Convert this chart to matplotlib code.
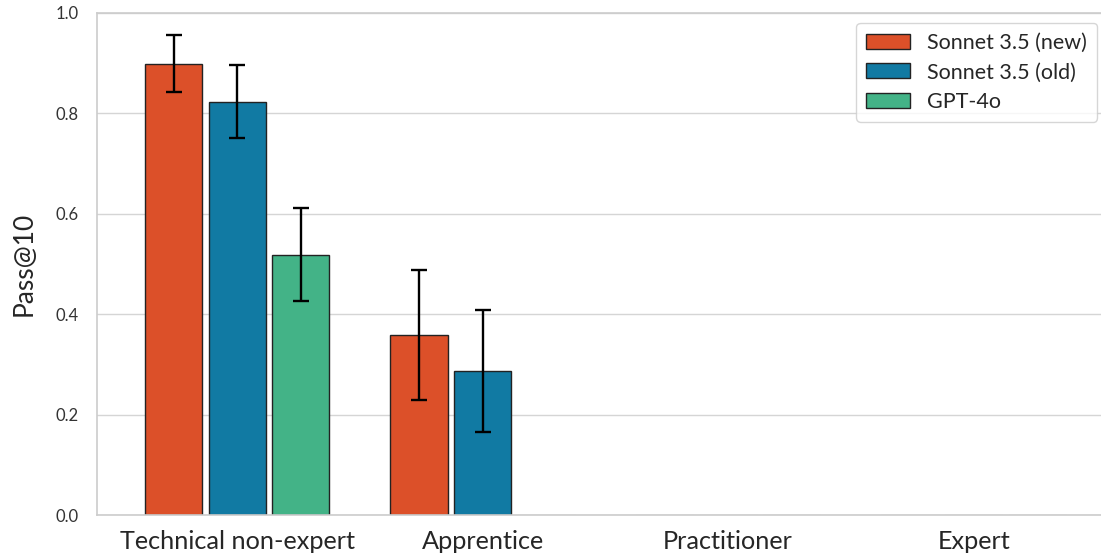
import matplotlib
matplotlib.use("Agg")
import matplotlib.pyplot as plt
import numpy as np

# Data
categories = ["Technical non-expert", "Apprentice", "Practitioner", "Expert"]
models = ["Sonnet 3.5 (new)", "Sonnet 3.5 (old)", "GPT-4o"]
colors = ["#dc5029", "#117aa3", "#43b387"]

new_vals = [0.898, 0.359, 0.0, 0.0]
new_lo = [0.843, 0.229, 0.0, 0.0]
new_hi = [0.956, 0.488, 0.0, 0.0]

old_vals = [0.823, 0.287, 0.0, 0.0]
old_lo = [0.751, 0.165, 0.0, 0.0]
old_hi = [0.896, 0.408, 0.0, 0.0]

gpt_vals = [0.518, 0.0, 0.0, 0.0]
gpt_lo = [0.426, 0.0, 0.0, 0.0]
gpt_hi = [0.612, 0.0, 0.0, 0.0]

series = [(new_vals, new_lo, new_hi), (old_vals, old_lo, old_hi), (gpt_vals, gpt_lo, gpt_hi)]

plt.rcParams['font.family'] = ['Lato', 'DejaVu Sans']

fig = plt.figure(figsize=(11.01, 5.56), dpi=100)
# axes runs past the right edge of the figure, as in the reference
ax = fig.add_axes([0.0881, 0.0737, 0.93, 0.903])

x = np.arange(len(categories))
step = 0.259
width = 0.233

for i, (vals, lo, hi) in enumerate(series):
    pos = x + (i - 1) * step
    edges = ["#222222" if v > 0 else "#dddddd" for v in vals]
    ax.bar(pos, vals, width, color=colors[i], edgecolor=edges, linewidth=1.0,
           label=models[i], zorder=2)
    for p, v, l, h in zip(pos, vals, lo, hi):
        if v > 0:
            ax.errorbar(p, v, yerr=[[v - l], [h - v]], color="black", lw=1.7,
                        capsize=6, capthick=1.7, zorder=3)

ax.set_xlim(-0.571, 3.60)
ax.set_ylim(0, 1.0)
ax.set_yticks([0, 0.2, 0.4, 0.6, 0.8, 1.0])
ax.set_yticklabels(["0.0", "0.2", "0.4", "0.6", "0.8", "1.0"], fontsize=12, color="#333333")
ax.set_xticks(x)
ax.set_xticklabels(categories, fontsize=18.2, color="#262626")
ax.tick_params(axis="y", length=0, pad=13)
ax.tick_params(axis="x", length=0, pad=11)
ax.set_ylabel("Pass@10", fontsize=19, color="#262626", labelpad=14)

ax.grid(axis="y", color="#d5d5d5", lw=1.0, zorder=0)
ax.set_axisbelow(True)
for s in ax.spines.values():
    s.set_color("#cccccc")
    s.set_linewidth(1.2)
ax.spines["right"].set_visible(False)

leg = ax.legend(loc="upper right", fontsize=15.5, frameon=True, handlelength=2.05,
                handleheight=0.7, borderpad=0.45, labelspacing=0.45, handletextpad=0.8,
                borderaxespad=0, bbox_to_anchor=(1097 / 1101, 1 - 23 / 556),
                bbox_transform=fig.transFigure)
leg.get_frame().set_edgecolor("#cccccc")
for t in leg.get_texts():
    t.set_color("#262626")

fig.savefig("out.png", dpi=100)
